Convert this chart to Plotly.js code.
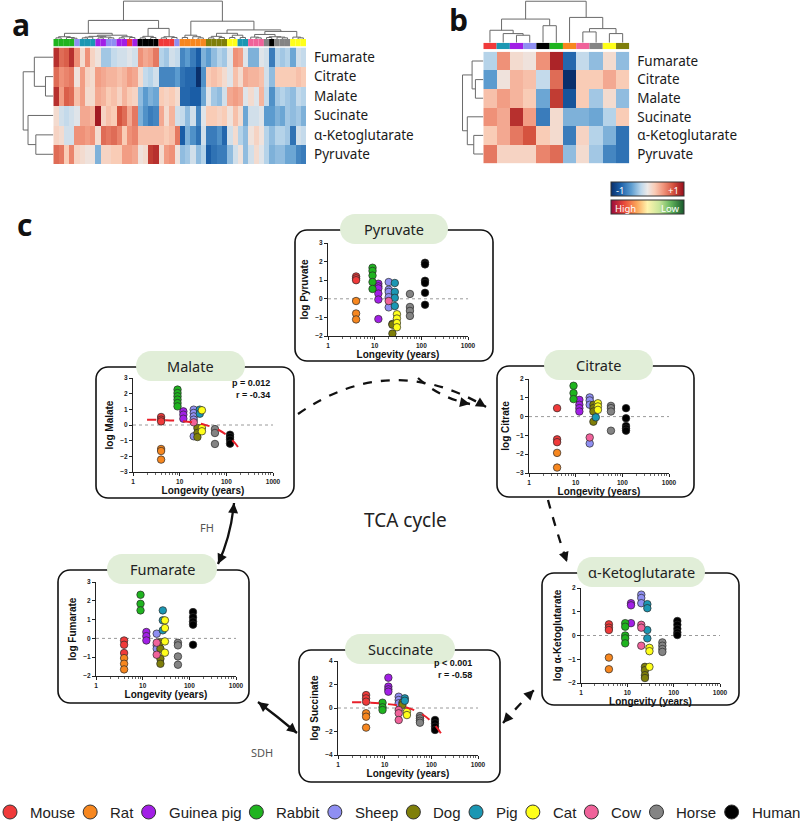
<!DOCTYPE html>
<html><head><meta charset="utf-8">
<script src="https://cdn.plot.ly/plotly-3.0.1.min.js"></script>
<style>html,body{margin:0;padding:0;background:#fff}#chart{width:800px;height:822px}</style>
</head><body><div id="chart"></div>
<script>
// ---------------- DATA ----------------
const species = ['Mouse','Rat','Guinea pig','Rabbit','Sheep','Dog','Pig','Cat','Cow','Horse','Human'];
const speciesColors = ['#f03a3a','#f7871f','#a21fe6','#1fb41f','#8f8ff2','#7f7f0a','#1b97b3','#ffff1a','#f0629a','#848484','#000000'];
const longevity = [4,4,12,9,20,24,27,30,20,57,120];
const metaboliteRows = ['Fumarate','Citrate','Malate','Sucinate','α-Ketoglutarate','Pyruvate'];

// heatmap a (48 samples)
const aColSpecies = ['Rabbit','Rabbit','Rabbit','Rabbit','Sheep','Pig','Pig','Pig','Guinea pig','Guinea pig',
 'Sheep','Sheep','Guinea pig','Guinea pig','Mouse','Guinea pig','Human','Human','Human','Human',
 'Mouse','Mouse','Mouse','Sheep','Rat','Rat','Rat','Rat','Rat','Dog',
 'Dog','Dog','Dog','Cat','Cat','Pig','Pig','Cow','Cow','Cow',
 'Horse','Human','Horse','Horse','Horse','Cat','Cat','Cat'];
const aFumarate = [0.85,0.6,0.65,0.85,0.45,0.1,0.45,0.15,0.05,-0.25,-0.25,-0.15,-0.1,-0.1,-0.05,-0.1,0.45,0.35,0.4,0.55,-0.2,-0.25,-0.1,-0.15,-0.55,-0.45,-0.6,-0.75,-0.35,-0.45,-0.3,-0.2,-0.25,-0.05,0.45,0.4,-0.05,-0.35,-0.35,-0.05,-0.1,-0.6,-0.2,-0.25,-0.2,-0.4,-0.1,-0.15];
const aCitrate = [0.6,0.45,0.5,0.55,0.05,0.4,0.15,0.1,0.4,0.35,0.3,0.3,0.25,0.3,0.4,0.35,0.1,-0.15,-0.2,-0.1,-0.55,-0.55,-0.55,-0.45,-0.65,-0.7,-0.7,-1.0,-0.5,0.2,0.25,0.2,0.1,-0.05,0.25,0.1,0.35,0.3,0.3,0.25,-0.1,-0.3,0.2,0.2,0.2,0.2,0.25,0.2];
const aMalate = [0.85,0.4,0.65,0.6,0.25,0.4,0.1,0.1,0.35,0.3,0.2,0.25,0.15,0.3,0.2,0.15,-0.3,-0.45,-0.35,-0.4,0.2,0.15,0.2,0.1,-0.7,-0.7,-0.75,-0.75,-0.4,-0.05,-0.25,-0.3,-0.1,0.35,0.4,0.35,-0.05,0.1,-0.05,0.3,-0.15,-0.5,-0.25,-0.2,-0.25,-0.3,-0.15,-0.2];
const aSucinate = [0.1,-0.1,-0.15,-0.1,-0.05,0.35,0.35,0.3,0.95,0.15,0.25,0.2,0.7,0.6,0.35,0.55,-0.35,-0.5,-0.6,-0.55,0.35,0.1,0.3,-0.1,-0.15,-0.3,-0.1,-0.55,-0.05,0.2,0.2,0.15,0.2,0.05,0.25,0.1,-0.4,-0.1,-0.1,-0.05,-0.45,-0.45,-0.35,-0.4,-0.25,-0.3,-0.25,-0.35];
const aAKG = [0.15,0.1,-0.1,-0.1,0.45,0.45,0.4,0.45,0.1,0.6,0.55,0.6,0.5,0.2,0.45,0.5,0.25,0.25,0.25,0.25,0.25,0.2,0.25,0.55,-0.75,-0.35,-0.5,-0.65,-0.1,-0.6,-0.6,-0.5,-0.7,-0.1,0.1,-0.2,-0.3,0.05,0.15,0.05,-0.2,-0.3,-0.2,-0.2,-0.25,-0.65,-0.1,-0.15];
const aPyruvate = [0.6,0.55,0.2,0.5,0.15,0.1,0.05,0.05,-0.35,0.15,0.15,0.2,0.2,0.4,0.4,0.35,0.05,0.1,0.8,0.85,0.1,0.4,0.45,0.05,-0.3,-0.25,-0.1,-0.3,-0.2,-0.75,-0.65,-0.6,-0.6,-0.3,-0.1,0.05,-0.3,-0.1,0.1,-0.05,-0.2,-0.35,-0.3,-0.3,-0.4,-0.4,-0.55,-0.6];

// heatmap b (species means)
const bColSpecies = ['Mouse','Pig','Guinea pig','Sheep','Human','Rabbit','Rat','Cow','Horse','Cat','Dog'];
const bFumarate = [-0.2,0.45,0.1,0.05,0.45,0.9,-0.7,-0.15,-0.3,0.1,-0.3];
const bCitrate  = [-0.45,0.05,0.3,0.25,-0.15,0.6,-1.0,0.2,0.2,0.35,0.2];
const bMalate   = [0.25,0.4,0.3,0.2,-0.4,0.8,-0.8,0.2,-0.25,0.1,-0.3];
const bSucinate = [0.45,0.35,0.85,0.4,-0.6,0.1,-0.35,-0.35,-0.4,-0.2,0.2];
const bAKG      = [0.2,0.35,0.55,0.7,0.2,0.1,-0.6,0.15,-0.2,-0.35,-0.65];
const bPyruvate = [0.55,0.15,0.15,0.15,0.5,0.6,-0.3,0.1,-0.25,-0.55,-0.65];

// dendrograms: [height, left, right], leaves = index
const aColTree = [1.0,
  [0.49,
    [0.15, [0.06,[0.03,0,1],[0.04,2,[0.02,3,4]]],
           [0.10,[0.07,[0.05,[0.03,5,6],7],[0.05,[0.03,8,9],[0.03,10,11]]],[0.06,[0.03,12,13],[0.04,14,15]]]],
    [0.28, [0.07,[0.03,16,17],[0.04,18,19]], [0.06,[0.03,20,21],[0.04,22,23]]]],
  [0.47,
    [0.10,[0.04,24,25],[0.06,26,[0.03,27,28]]],
    [0.24, [0.15,[0.07,[0.03,29,30],[0.04,31,32]],[0.10,[0.04,33,34],[0.04,35,36]]],
           [0.20,[0.12,[0.05,37,[0.03,38,39]],[0.06,[0.04,40,41],[0.05,42,[0.03,43,44]]]],[0.05,45,[0.03,46,47]]]]]];
const aRowTree = [1.0, [0.63, 0, [0.26, 1, 2]], [0.84, 3, [0.58, 4, 5]]];
const bColTree = [1.0, [0.57, [0.30, 0, [0.22, 1, [0.18, 2, 3]]], [0.41, 4, 5]], [0.61, 6, [0.34, [0.26, 7, 8], [0.22, 9, 10]]]];
const bRowTree = [1.0, [0.54, 0, [0.38, 1, 2]], [0.77, 3, [0.46, 4, 5]]];

// scatter panels: values per species (same order as species)
const pyruvateVals = [[1.2,1.1,1.0],[-0.12,-0.79,-1.11],[0.81,0.67,0.56,0.28,-0.04,-1.09],[1.67,1.5,1.25,0.9,0.53],[0.9,0.49,0.37,0.09,-0.46],[-1.35,-1.39,-1.87],[0.85,0.37,0.05,-0.39],[-0.83,-1.06,-1.3,-1.53],[-0.12],[0.26,-0.44,-0.65,-0.92],[1.94,1.85,0.97,0.85,0.32,-0.32]];
const malateVals = [[0.51,0.34,0.23],[-1.53,-1.66,-2.21],[0.87,0.66,0.4],[2.26,2.04,1.83,1.62,1.4,1.19],[0.98,0.77,0.55,0.34,-0.72],[-0.19,-0.51,-0.77],[0.98,0.72],[0.94,-0.19,-0.4],[0.17],[-0.26,-0.51,-1.21],[-0.62,-0.77,-0.94,-1.19]];
const citrateVals = [[0.45,-1.21,-1.36],[-1.93,-2.71],[0.89,0.63,0.45,0.27],[1.64,1.25,0.93],[1.02,0.86,0.63,-1.43],[0.63,0.45,0.27,-0.27],[-0.04],[0.71,0.54,0.36],[-1.11],[0.57,0.45,0.27,-0.75],[0.45,-0.09,-0.5,-0.63,-0.75]];
const fumarateVals = [[-0.11,-0.34,-0.78],[-1.05,-1.35,-1.65],[0.34,0.12,-0.11],[2.32,1.84,1.49],[0.25,-0.37,-0.55],[-0.2,-0.55,-1.08,-1.35],[1.49,0.96,0.43],[0.96,0.55,-0.16,-0.76],[-0.23,-0.87],[-0.23,-0.37,-0.96,-1.4],[1.4,1.13,0.9,0.73,-0.34]];
const akgVals = [[0.47,0.33,0.23],[-0.93,-1.42],[1.36,1.27,0.52],[0.52,0.37,0,-0.12,-0.33],[1.72,1.58,1.36],[-1.32,-1.46,-1.67,-1.79],[1.32,1.15,0.23,-0.12],[-0.52,-0.66,-1.32],[0.45,0.33,-0.43],[-0.29,-0.43,-0.57,-0.69],[0.61,0.45,0.28,0.13,0.02]];
const succinateVals = [[1.1,0.82,0.54],[-0.45,-0.74,-1.67],[2.58,1.82,1.59,1.39],[0.45,0.06,-0.17],[0.96,0.68,0.4],[0.45,0.26],[0.82,0.62],[-0.31,-0.6],[-0.17,-0.45,-1.02],[-0.68,-0.88,-1.08,-1.25],[-1.02,-1.3,-1.59,-1.87]];

const malateFitX = [2,5,10,20,35,60,100,150,200];
const malateFitY = [0.34,0.31,0.26,0.16,0.01,-0.23,-0.63,-1.13,-1.62];
const succinateFitX = [2,5,10,20,35,60,100,150,200];
const succinateFitY = [0.50,0.45,0.36,0.20,-0.05,-0.47,-1.14,-1.98,-2.81];
const malateStats = ['p = 0.012','r = -0.34'];
const succinateStats = ['p < 0.001','r = -0.58'];
const xTickVals = [1,10,100,1000];

// ---------------- LAYOUT HELPERS ----------------
const W = 800, H = 822;
const fx = x => x / W, fy = y => 1 - y / H;
const dom = (x0, y0, x1, y1) => ({x: [fx(x0), fx(x1)], y: [fy(y1), fy(y0)]});
const colorOf = s => speciesColors[species.indexOf(s)];
const heatScale = [[0,'#0a2f6b'],[0.13,'#1b5fa8'],[0.28,'#5d9dd0'],[0.41,'#bcd7eb'],[0.5,'#ece9e8'],[0.6,'#f9ccb6'],[0.72,'#f0937a'],[0.85,'#d5533f'],[1,'#980d1c']];
const hlScale = [[0,'#98093a'],[0.18,'#e8493a'],[0.35,'#fba45a'],[0.5,'#fff4ae'],[0.66,'#c9e69a'],[0.82,'#62b45c'],[1,'#17582c']];
const noAx = {showgrid:false, zeroline:false, showticklabels:false, ticks:'', showline:false, fixedrange:true};

const traces = [];
const layout = {
  width: W, height: H, margin: {l:0, r:0, t:0, b:0},
  paper_bgcolor: '#fff', plot_bgcolor: 'rgba(0,0,0,0)', showlegend: false,
  font: {family: 'Liberation Sans, Arial, sans-serif', color: '#222'},
  shapes: [], annotations: []
};

// dendrogram builder
function dendro(tree, swap) {
  const xs = [], ys = [];
  function walk(n) {
    if (typeof n === 'number') return {p: n, h: 0};
    const [h, l, r] = n;
    const a = walk(l), b = walk(r);
    const seg = [[a.p, a.h],[a.p, h],[b.p, h],[b.p, b.h]];
    seg.forEach(([p, hh]) => { if (swap) { xs.push(hh); ys.push(p); } else { xs.push(p); ys.push(hh); } });
    xs.push(null); ys.push(null);
    return {p: (a.p + b.p) / 2, h: h};
  }
  walk(tree);
  return {x: xs, y: ys};
}
const dendroLine = {color: '#6a6a6a', width: 1};

function addHeatBlock(cfg) {
  const n = cfg.cols.length;
  const idx = cfg.cols.map((_, i) => i);
  const [xa, ya, xs, ys, xd, yd, xr, yr] = cfg.axes;
  const hd = dom(...cfg.heat), sd = dom(...cfg.strip), cd = dom(...cfg.colDen), rd = dom(...cfg.rowDen);
  traces.push({type:'heatmap', z: cfg.z, x: idx, y: metaboliteRows.map((_, i) => i), xaxis: xa, yaxis: ya,
    colorscale: heatScale, zmin: -1, zmax: 1, showscale: !!cfg.colorbar, colorbar: cfg.colorbar, hoverinfo:'skip'});
  layout['xaxis' + xa.slice(1)] = Object.assign({}, noAx, {domain: hd.x, anchor: ya, range: [-0.5, n - 0.5]});
  layout['yaxis' + ya.slice(1)] = Object.assign({}, noAx, {domain: hd.y, anchor: xa, range: [5.5, -0.5], side: 'right',
    showticklabels: true, tickvals: metaboliteRows.map((_, i) => i), ticktext: metaboliteRows, ticklabelstandoff: 7,
    tickfont: {family: 'Noto Sans, Open Sans, sans-serif', size: 13.5, color: '#1a1a1a'}});
  // species colour strip
  traces.push({type:'bar', x: idx, y: idx.map(() => 1), width: 1, xaxis: xs, yaxis: ys,
    marker: {color: cfg.cols.map(colorOf), line: {width: 0}}, hoverinfo:'skip'});
  layout['xaxis' + xs.slice(1)] = Object.assign({}, noAx, {domain: sd.x, anchor: ys, range: [-0.5, n - 0.5]});
  layout['yaxis' + ys.slice(1)] = Object.assign({}, noAx, {domain: sd.y, anchor: xs, range: [0, 1]});
  // column dendrogram
  const c = dendro(cfg.colTree, false);
  traces.push({type:'scatter', mode:'lines', x: c.x, y: c.y, xaxis: xd, yaxis: yd, line: dendroLine, hoverinfo:'skip'});
  layout['xaxis' + xd.slice(1)] = Object.assign({}, noAx, {domain: cd.x, anchor: yd, range: [-0.5, n - 0.5]});
  layout['yaxis' + yd.slice(1)] = Object.assign({}, noAx, {domain: cd.y, anchor: xd, range: [0, 1.03]});
  // row dendrogram
  const r = dendro(cfg.rowTree, true);
  traces.push({type:'scatter', mode:'lines', x: r.x, y: r.y, xaxis: xr, yaxis: yr, line: dendroLine, hoverinfo:'skip'});
  layout['xaxis' + xr.slice(1)] = Object.assign({}, noAx, {domain: rd.x, anchor: yr, range: [1.04, 0]});
  layout['yaxis' + yr.slice(1)] = Object.assign({}, noAx, {domain: rd.y, anchor: xr, range: [5.5, -0.5]});
}

addHeatBlock({cols: aColSpecies, z: [aFumarate, aCitrate, aMalate, aSucinate, aAKG, aPyruvate],
  axes: ['x','y','x2','y2','x3','y3','x4','y4'],
  heat: [53.3,47.5,306,164], strip: [53.3,39,306,46.5], colDen: [53.3,0,306,39], rowDen: [22,47.5,53.3,164],
  colTree: aColTree, rowTree: aRowTree,
  colorbar: {orientation:'h', x: fx(647.5), xanchor:'center', y: fy(197), yanchor:'bottom', len: 73, lenmode:'pixels',
    thickness: 14, thicknessmode:'pixels', outlinewidth: 1, outlinecolor:'#333', showticklabels:false, ticks:'', xpad:0, ypad:0}});
addHeatBlock({cols: bColSpecies, z: [bFumarate, bCitrate, bMalate, bSucinate, bAKG, bPyruvate],
  axes: ['x5','y5','x6','y6','x7','y7','x8','y8'],
  heat: [483.3,51.7,629.3,163.3], strip: [483.3,42.7,629.3,49.3], colDen: [483.3,0,629.3,42.7], rowDen: [461.7,51.7,483.3,163.3],
  colTree: bColTree, rowTree: bRowTree, colorbar: null});

// overlay axis in pixel units (for decorations + legend)
layout.xaxis15 = Object.assign({}, noAx, {domain:[0,1], range:[0, W], anchor:'y15', visible:false});
layout.yaxis15 = Object.assign({}, noAx, {domain:[0,1], range:[H, 0], anchor:'x15', visible:false});

// second colour bar (High / Low)
traces.push({type:'scatter', mode:'markers', x:[-100], y:[-100], xaxis:'x15', yaxis:'y15', hoverinfo:'skip',
  marker:{color:[0], cmin:0, cmax:1, colorscale: hlScale, showscale:true,
    colorbar:{orientation:'h', x: fx(647.5), xanchor:'center', y: fy(215), yanchor:'bottom', len:73, lenmode:'pixels',
      thickness:14, thicknessmode:'pixels', outlinewidth:1, outlinecolor:'#333', showticklabels:false, ticks:'', xpad:0, ypad:0}}});
const cbFont = {family:'Noto Sans, Open Sans, sans-serif', size: 9.5, color:'#fff'};
[['-1',614,190,'left'],['+1',681,190,'right'],['High',613,208,'left'],['Low',682,208,'right']].forEach(([t,x,y,a]) =>
  layout.annotations.push({text:t, xref:'x15', yref:'y15', x:x, y:y, xanchor:a, yanchor:'middle', showarrow:false, font:cbFont}));

// ---------------- SCATTER PANELS ----------------
const panels = [
  {name:'Pyruvate', vals: pyruvateVals, yr:[-2,3], dt:1, box:[295,230,493,361], pill:[340,448], plot:[328,243,468,336], yt:'log Pyruvate'},
  {name:'Malate', vals: malateVals, yr:[-3,3], dt:1, box:[96,367,294,498], pill:[136,245], plot:[133,378,273,472], yt:'log Malate',
    fit:[malateFitX, malateFitY], stats: malateStats, sxy:[272,389]},
  {name:'Citrate', vals: citrateVals, yr:[-3,2], dt:1, box:[497,366,694,497], pill:[544,653], plot:[529,379,669,473], yt:'log Citrate'},
  {name:'Fumarate', vals: fumarateVals, yr:[-2,3], dt:1, box:[58,570,249,703], pill:[107,217], plot:[96,582,236,676], yt:'log Fumarate'},
  {name:'α-Ketoglutarate', vals: akgVals, yr:[-2,2], dt:1, box:[542,573,739,705], pill:[577,705], plot:[581,588,720,683], yt:'log α-Ketoglutarate'},
  {name:'Succinate', vals: succinateVals, yr:[-4,4], dt:2, box:[299,650,500,782], pill:[345,455], plot:[338,661,478,755], yt:'log Succinate',
    fit:[succinateFitX, succinateFitY], stats: succinateStats, sxy:[474,669]}
];
const tickFont = {family:'Liberation Sans, Arial, sans-serif', size:6.5, weight:'bold', color:'#222'};
const titleFont = {family:'Liberation Sans, Arial, sans-serif', size:10, weight:'bold', color:'#111'};

function roundRect(x0, y0, x1, y1, r) {
  const k = 0.5523 * r;
  return `M${x0+r},${y0} L${x1-r},${y0} C${x1-r+k},${y0} ${x1},${y0+r-k} ${x1},${y0+r} L${x1},${y1-r} C${x1},${y1-r+k} ${x1-r+k},${y1} ${x1-r},${y1} ` +
         `L${x0+r},${y1} C${x0+r-k},${y1} ${x0},${y1-r+k} ${x0},${y1-r} L${x0},${y0+r} C${x0},${y0+r-k} ${x0+r-k},${y0} ${x0+r},${y0} Z`;
}

panels.forEach((p, i) => {
  const xa = 'x' + (9 + i), ya = 'y' + (9 + i);
  const d = dom(...p.plot);
  layout['xaxis' + (9 + i)] = {domain: d.x, anchor: ya, type:'log', range:[0,3], tickvals: xTickVals, ticktext: xTickVals.map(String),
    ticks:'outside', ticklen:3, tickwidth:1, tickcolor:'#222', showline:true, linecolor:'#222', linewidth:1, showgrid:false, zeroline:false,
    tickfont: tickFont, minor:{ticks:'outside', ticklen:1.6, tickwidth:0.8, tickcolor:'#444', dtick:'D1', showgrid:false},
    title:{text:'Longevity (years)', font: titleFont, standoff: 3}, fixedrange:true};
  layout['yaxis' + (9 + i)] = {domain: d.y, anchor: xa, range: p.yr, dtick: p.dt, tick0: 0, ticks:'outside', ticklen:3, tickwidth:1,
    tickcolor:'#222', showline:true, linecolor:'#222', linewidth:1, showgrid:false, zeroline:false, tickfont: tickFont,
    title:{text: p.yt, font: titleFont, standoff: 4}, fixedrange:true};
  layout.shapes.push({type:'line', xref: xa + ' domain', yref: ya, x0:0, x1:1, y0:0, y1:0, line:{color:'#9a9a9a', width:1, dash:'dot'}, layer:'below'});
  species.forEach((s, si) => {
    const v = p.vals[si];
    traces.push({type:'scatter', mode:'markers', xaxis: xa, yaxis: ya, x: v.map(() => longevity[si]), y: v, hoverinfo:'skip',
      marker:{size:7.5, color: speciesColors[si], line:{color:'#2a2a2a', width:0.7}}});
  });
  if (p.fit) traces.push({type:'scatter', mode:'lines', xaxis: xa, yaxis: ya, x: p.fit[0], y: p.fit[1], hoverinfo:'skip',
    line:{color:'#e8202a', width:2, dash:'dash', shape:'spline'}});
  if (p.stats) layout.annotations.push({text: p.stats.join('<br>'), xref:'x15', yref:'y15', x: p.sxy[0], y: p.sxy[1],
    xanchor:'right', yanchor:'middle', align:'right', showarrow:false,
    font:{family:'Liberation Sans, Arial, sans-serif', size:9, weight:'bold', color:'#111'}});
  // box + pill
  const [bx0, by0, bx1, by1] = p.box;
  layout.shapes.push({type:'path', xref:'x15', yref:'y15', path: roundRect(bx0, by0, bx1, by1, 12), line:{color:'#111', width:1.6}, layer:'above'});
  const ph = 30, pc = by0 - 1;
  layout.shapes.push({type:'path', xref:'x15', yref:'y15', path: roundRect(p.pill[0], pc - ph/2, p.pill[1], pc + ph/2, ph/2),
    fillcolor:'#e1eed8', line:{width:0}, layer:'above'});
  layout.annotations.push({text: p.name, xref:'x15', yref:'y15', x:(p.pill[0] + p.pill[1]) / 2, y: pc, showarrow:false,
    xanchor:'center', yanchor:'middle', font:{family:'Noto Sans, Open Sans, sans-serif', size:14.5, color:'#222'}});
});

// ---------------- ARROWS ----------------
function head(tx, ty, dx, dy, len, wid) {
  const m = Math.hypot(dx, dy), ux = dx / m, uy = dy / m, bx = tx - ux * len, by = ty - uy * len;
  return `M${tx},${ty} L${bx - uy * wid},${by + ux * wid} L${bx + uy * wid},${by - ux * wid} Z`;
}
const arrows = [
  {p:[418,378, 440,398, 470,404], dash:true, end:true},
  {p:[298,414, 390,350, 486,407], dash:true, end:true},
  {p:[548,500, 556,530, 567,562], dash:true, end:true},
  {p:[503,723, 518,706, 534,690], dash:true, end:true, start:true},
  {p:[258,702, 278,717, 297,733], dash:false, end:true, start:true},
  {p:[218,564, 231,536, 234,503], dash:false, end:true, start:true}
];
arrows.forEach(a => {
  const [x0,y0,cx,cy,x1,y1] = a.p;
  layout.shapes.push({type:'path', xref:'x15', yref:'y15', path:`M${x0},${y0} Q${cx},${cy} ${x1},${y1}`,
    line:{color:'#111', width:2.3, dash: a.dash ? 'dash' : 'solid'}, layer:'above'});
  if (a.end) layout.shapes.push({type:'path', xref:'x15', yref:'y15', path: head(x1, y1, x1 - cx, y1 - cy, 10, 5),
    fillcolor:'#111', line:{width:0}, layer:'above'});
  if (a.start) layout.shapes.push({type:'path', xref:'x15', yref:'y15', path: head(x0, y0, x0 - cx, y0 - cy, 10, 5),
    fillcolor:'#111', line:{width:0}, layer:'above'});
});

// ---------------- TEXT LABELS ----------------
const bigFont = {family:'Open Sans, Noto Sans, sans-serif', size:30, weight:'bold', color:'#111'};
[['a',21,24],['b',458,19],['c',24,224]].forEach(([t,x,y]) =>
  layout.annotations.push({text:t, xref:'x15', yref:'y15', x:x, y:y, showarrow:false, xanchor:'center', yanchor:'middle', font:bigFont}));
layout.annotations.push({text:'TCA cycle', xref:'x15', yref:'y15', x:405, y:520, showarrow:false,
  font:{family:'Noto Sans, Open Sans, sans-serif', size:19, color:'#222'}});
[['FH',207,527],['SDH',262,752]].forEach(([t,x,y]) =>
  layout.annotations.push({text:t, xref:'x15', yref:'y15', x:x, y:y, showarrow:false,
    font:{family:'Noto Sans, Open Sans, sans-serif', size:11, color:'#555'}}));

// ---------------- LEGEND ----------------
const legFamily = '"Liberation Sans Narrow", "Liberation Sans", Arial, sans-serif';
const ctx = document.createElement('canvas').getContext('2d');
ctx.font = '15px ' + legFamily;
const widths = species.map(s => ctx.measureText(s).width);
const firstC = 10, lastEnd = 798, markGap = 18;
const used = widths.reduce((a, w) => a + w + markGap, 0);
const gap = (lastEnd - firstC - used) / (species.length - 1);
const legX = []; let cur = firstC;
species.forEach((s, i) => {
  legX.push(cur);
  layout.annotations.push({text: s, xref:'x15', yref:'y15', x: cur + markGap, y: 812, xanchor:'left', yanchor:'middle',
    showarrow:false, font:{family: legFamily, size:15, color:'#222'}});
  cur += markGap + widths[i] + gap;
});
traces.push({type:'scatter', mode:'markers', xaxis:'x15', yaxis:'y15', x: legX, y: legX.map(() => 812), hoverinfo:'skip',
  marker:{size:14, color: speciesColors, line:{color:'#333', width:1}}});

Plotly.newPlot('chart', traces, layout, {staticPlot:true, displayModeBar:false});
</script>
</body></html>
